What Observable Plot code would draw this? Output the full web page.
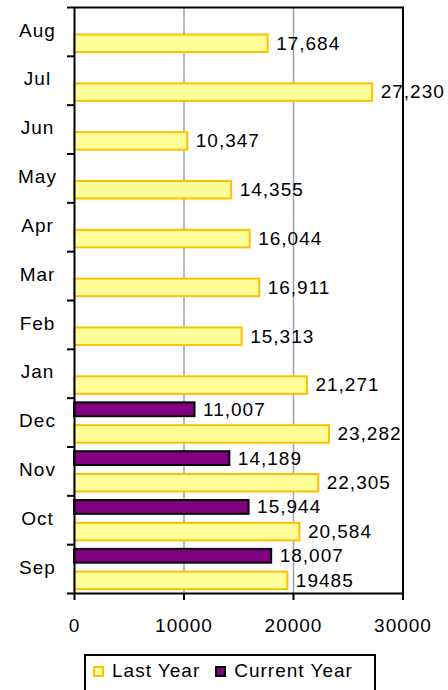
<!DOCTYPE html>
<html>
<head>
<meta charset="utf-8">
<script src="https://cdn.jsdelivr.net/npm/d3@7"></script>
<script src="https://cdn.jsdelivr.net/npm/@observablehq/plot@0.6"></script>
<style>
  body { margin: 0; background: #fff; }
  #chart { position: relative; width: 448px; height: 690px; overflow: hidden; background: #fff;
           font-family: "Liberation Sans", Arial, sans-serif; letter-spacing: 1px; }
  #chart svg { position: absolute; left: 0; top: 0; }
  #legend { position: absolute; left: 84px; top: 654px; width: 292px; height: 50px; box-sizing: border-box;
            border: 2px solid #000; background: #fff; }
  #legend .row { position: absolute; top: 5px; left: 7px; height: 20px; display: flex; align-items: center;
                 font-size: 19px; color: #000; white-space: nowrap; }
  #legend .sw { width: 11px; height: 11px; box-sizing: border-box; border: 2px solid; margin-right: 8px; }
  #legend .lbl { margin-right: 15px; line-height: 20px; }
</style>
</head>
<body>
<div id="chart"><div id="legend"><div class="row"></div></div></div>
<script>
// ---- data ----
const months = ["Sep", "Oct", "Nov", "Dec", "Jan", "Feb", "Mar", "Apr", "May", "Jun", "Jul", "Aug"];
const lastYear = [19485, 20584, 22305, 23282, 21271, 15313, 16911, 16044, 14355, 10347, 27230, 17684];
const lastYearLabels = ["19485", "20,584", "22,305", "23,282", "21,271", "15,313", "16,911", "16,044", "14,355", "10,347", "27,230", "17,684"];
const currentMonths = ["Sep", "Oct", "Nov", "Dec"];
const currentYear = [18007, 15944, 14189, 11007];
const currentYearLabels = ["18,007", "15,944", "14,189", "11,007"];
const xTicks = [0, 10000, 20000, 30000];
const gridTicks = [10000, 20000];
const seriesNames = ["Last Year", "Current Year"];
const seriesFill = ["#FFFF99", "#800080"];
const seriesStroke = ["#FFBF00", "#000000"];

// ---- tables built from the arrays ----
const lastRows = months.map((m, i) => ({month: m, value: lastYear[i], label: lastYearLabels[i]}));
const curRows = currentMonths.map((m, i) => ({month: m, value: currentYear[i], label: currentYearLabels[i]}));
const yDomain = months.slice().reverse(); // Aug at top, Sep at bottom

// ---- layout ----
const W = 448, H = 648, mt = 7, mb = 55, ml = 74, mr = 45.5;
const band = (H - mt - mb) / months.length;
const font = "'Liberation Sans', Arial, sans-serif";

const chart = Plot.plot({
  width: W, height: H,
  marginTop: mt, marginBottom: mb, marginLeft: ml, marginRight: mr,
  style: {fontFamily: font, fontSize: "19px", letterSpacing: "1px", color: "#000", background: "#fff", overflow: "visible"},
  x: {domain: [0, 30000]},
  y: {domain: yDomain, padding: 0, round: false},
  marks: [
    Plot.ruleX(gridTicks, {stroke: "#a0a0a8", strokeWidth: 1.5}),
    Plot.barX(lastRows, {x: "value", y: "month", fill: seriesFill[0], stroke: seriesStroke[0], strokeWidth: 2,
      insetTop: 27.5, insetBottom: band - 45}),
    Plot.barX(curRows, {x: "value", y: "month", fill: seriesFill[1], stroke: seriesStroke[1], strokeWidth: 2,
      insetTop: 4.7, insetBottom: band - 18.5}),
    Plot.text(lastRows, {x: "value", y: "month", text: "label", textAnchor: "start", dx: 8, dy: 36 - band / 2,
      fill: "#000", fontSize: 19}),
    Plot.text(curRows, {x: "value", y: "month", text: "label", textAnchor: "start", dx: 8, dy: 11.5 - band / 2,
      fill: "#000", fontSize: 19}),
    Plot.text(months, {y: d => d, text: d => d, frameAnchor: "left", textAnchor: "middle", dx: -37, dy: -1.5,
      fill: "#000", fontSize: 19}),
    Plot.frame({stroke: "#000", strokeWidth: 2}),
    Plot.axisY({tickSize: 7, text: null, strokeWidth: 2, stroke: "#000", dy: band / 2, label: null}),
    Plot.axisY([yDomain[0]], {tickSize: 7, text: null, strokeWidth: 2, stroke: "#000", dy: -band / 2, label: null}),
    Plot.axisX(xTicks, {tickSize: 7, tickPadding: 18, strokeWidth: 2, stroke: "#000", fill: "#000",
      tickFormat: d3.format("d"), fontSize: 19, label: null})
  ]
});
document.getElementById("chart").prepend(chart);

// ---- legend ----
const row = d3.select("#legend .row");
seriesNames.forEach((name, i) => {
  row.append("span").attr("class", "sw")
    .style("background", seriesFill[i]).style("border-color", seriesStroke[i]);
  row.append("span").attr("class", "lbl").text(name);
});
</script>
</body>
</html>
